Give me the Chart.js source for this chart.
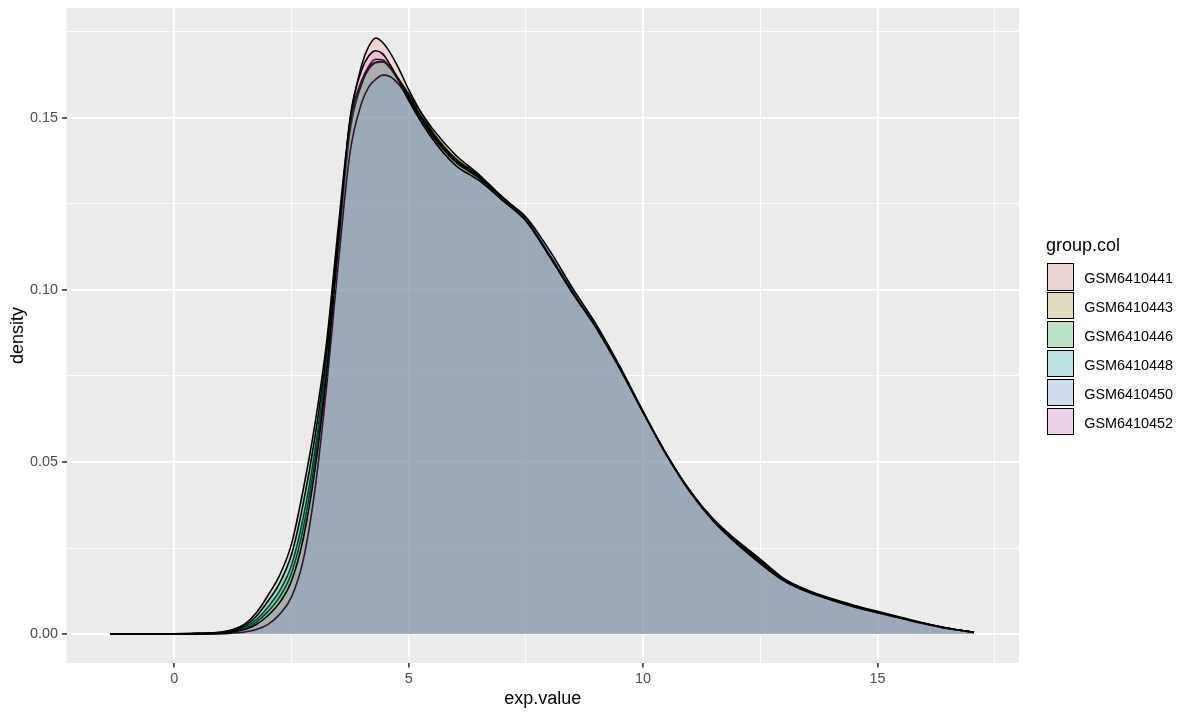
<!DOCTYPE html>
<html><head><meta charset="utf-8">
<script src="https://cdn.jsdelivr.net/npm/chart.js@4.4.1/dist/chart.umd.min.js"></script>
<style>
html,body{margin:0;padding:0;background:#fff;}
#wrap{position:relative;width:1192px;height:715px;}
#c{position:absolute;left:0;top:0;}
.lg{position:absolute;font-family:'Liberation Sans',Arial,sans-serif;white-space:nowrap;}
.lt{font-size:18px;line-height:18px;color:#000;}
.key{box-sizing:border-box;width:27.3px;height:27.3px;border:1.6px solid #000;}
.lab{font-size:14.4px;line-height:14.4px;color:#000;}
</style></head><body>
<div id="wrap"><canvas id="c"></canvas></div>
<script>
// ---- data ----
const xValues = [-1.37, -0.5, 0, 0.5, 1.0, 1.25, 1.5, 1.75, 2.0, 2.25, 2.5, 2.75, 3.0, 3.25, 3.5, 3.75,
  4.0, 4.15, 4.3, 4.45, 4.6, 4.8, 5.0, 5.5, 6.0, 6.5, 7.0, 7.5, 8.0, 8.5,
  9.0, 9.5, 10, 10.5, 11, 11.5, 12, 12.5, 13, 13.5, 14, 14.5, 15, 15.5, 16, 16.5, 17.06];

const gsm6410441 = [0, 0.00001, 0.00005, 0.00015, 0.0004, 0.0009, 0.0020, 0.0042, 0.0079, 0.0126, 0.0200, 0.0338, 0.0534, 0.0798, 0.1143, 0.1490,
  0.1655, 0.1708, 0.1732, 0.1718, 0.1690, 0.1640, 0.1582, 0.1462, 0.1382, 0.1333, 0.1270, 0.1207, 0.1100, 0.0990,
  0.0892, 0.0774, 0.0645, 0.0521, 0.0415, 0.0331, 0.0268, 0.0213, 0.0160, 0.0126, 0.0101, 0.0080, 0.0063, 0.0047, 0.0031, 0.0017, 0.0005];
const gsm6410443 = [0, 0.00001, 0.00004, 0.00012, 0.0003, 0.0008, 0.0016, 0.0035, 0.0066, 0.0109, 0.0177, 0.0307, 0.0506, 0.0779, 0.1127, 0.1460,
  0.1600, 0.1650, 0.1670, 0.1668, 0.1648, 0.1610, 0.1570, 0.1470, 0.1392, 0.1335, 0.1268, 0.1205, 0.1100, 0.0990,
  0.0895, 0.0775, 0.0644, 0.0520, 0.0416, 0.0334, 0.0272, 0.0218, 0.0162, 0.0127, 0.0102, 0.0082, 0.0064, 0.0047, 0.0031, 0.0017, 0.0005];
const gsm6410446 = [0, 0.00002, 0.0001, 0.0002, 0.0006, 0.0013, 0.0029, 0.0062, 0.0113, 0.0172, 0.0262, 0.0420, 0.0610, 0.0850, 0.1185, 0.1490,
  0.1610, 0.1648, 0.1662, 0.1664, 0.1645, 0.1605, 0.1560, 0.1455, 0.1378, 0.1330, 0.1268, 0.1205, 0.1102, 0.0992,
  0.0890, 0.0772, 0.0644, 0.0522, 0.0417, 0.0332, 0.0268, 0.0212, 0.0160, 0.0128, 0.0104, 0.0084, 0.0066, 0.0049, 0.0032, 0.0017, 0.0005];
const gsm6410448 = [0, 0.00002, 0.0001, 0.0002, 0.0005, 0.0011, 0.0024, 0.0052, 0.0096, 0.0149, 0.0231, 0.0379, 0.0572, 0.0824, 0.1164, 0.1480,
  0.1600, 0.1642, 0.1660, 0.1662, 0.1646, 0.1607, 0.1563, 0.1455, 0.1376, 0.1328, 0.1266, 0.1205, 0.1104, 0.0995,
  0.0893, 0.0774, 0.0646, 0.0522, 0.0414, 0.0330, 0.0267, 0.0211, 0.0159, 0.0126, 0.0101, 0.0080, 0.0062, 0.0046, 0.0030, 0.0016, 0.0005];
const gsm6410450 = [0, 0, 0.00002, 0.00005, 0.0001, 0.0003, 0.0006, 0.0013, 0.0028, 0.0058, 0.0108, 0.0215, 0.0420, 0.0720, 0.1080, 0.1400,
  0.1545, 0.1590, 0.1612, 0.1624, 0.1620, 0.1595, 0.1555, 0.1448, 0.1372, 0.1325, 0.1265, 0.1212, 0.1116, 0.1004,
  0.0900, 0.0779, 0.0647, 0.0520, 0.0413, 0.0329, 0.0265, 0.0210, 0.0158, 0.0125, 0.0100, 0.0079, 0.0062, 0.0046, 0.0030, 0.0016, 0.0005];
const gsm6410452 = [0, 0.00001, 0.00003, 0.0001, 0.0002, 0.0006, 0.0013, 0.0028, 0.0054, 0.0092, 0.0154, 0.0277, 0.0477, 0.0759, 0.1140, 0.1500,
  0.1640, 0.1680, 0.1695, 0.1685, 0.1655, 0.1605, 0.1550, 0.1440, 0.1362, 0.1318, 0.1260, 0.1200, 0.1098, 0.0990,
  0.0889, 0.0772, 0.0644, 0.0521, 0.0414, 0.0328, 0.0262, 0.0205, 0.0155, 0.0123, 0.0100, 0.0080, 0.0063, 0.0047, 0.0031, 0.0017, 0.0005];

const seriesNames = ['GSM6410441', 'GSM6410443', 'GSM6410446', 'GSM6410448', 'GSM6410450', 'GSM6410452'];
const seriesValues = [gsm6410441, gsm6410443, gsm6410446, gsm6410448, gsm6410450, gsm6410452];
const seriesColors = ['#F8766D', '#B79F00', '#00BA38', '#00BFC4', '#619CFF', '#F564E3'];

const xMajorTicks = [0, 5, 10, 15];
const xTickLabels = ['0', '5', '10', '15'];
const xMinorTicks = [2.5, 7.5, 12.5, 17.5];
const yMajorTicks = [0, 0.05, 0.10, 0.15];
const yTickLabels = ['0.00', '0.05', '0.10', '0.15'];
const yMinorTicks = [0.025, 0.075, 0.125, 0.175];
const legendTitle = 'group.col';
const xTitle = 'exp.value';
const yTitle = 'density';

// ---- helpers ----
const FILL_ALPHA = 0.2;
function rgba(hex, a) {
  const n = parseInt(hex.slice(1), 16);
  return `rgba(${(n >> 16) & 255},${(n >> 8) & 255},${n & 255},${a})`;
}
function overBg(hex, a, bg) {
  const n = parseInt(hex.slice(1), 16);
  const c = [(n >> 16) & 255, (n >> 8) & 255, n & 255];
  return `rgb(${c.map(v => Math.round(v * a + bg * (1 - a))).join(',')})`;
}
const isMajor = (list, v) => list.some(m => Math.abs(m - v) < 1e-9);
const labelFor = (majors, labels, v) => {
  const i = majors.findIndex(m => Math.abs(m - v) < 1e-9);
  return i >= 0 ? labels[i] : '';
};

const datasets = seriesNames.map((name, i) => ({
  label: name,
  data: xValues.map((x, j) => ({ x: x, y: seriesValues[i][j] })),
  borderColor: '#000000',
  borderWidth: 1.6,
  backgroundColor: rgba(seriesColors[i], FILL_ALPHA),
  fill: 'origin',
  pointRadius: 0,
  pointHoverRadius: 0,
  cubicInterpolationMode: 'monotone',
  order: seriesNames.length - 1 - i
}));

const panelBg = {
  id: 'panelBg',
  beforeDraw(chart) {
    const { ctx, chartArea: a } = chart;
    ctx.save();
    ctx.fillStyle = '#EBEBEB';
    ctx.fillRect(a.left, a.top, a.right - a.left, a.bottom - a.top);
    ctx.restore();
  }
};

const FONT = "'Liberation Sans', Arial, sans-serif";
function noPad(s) { s.paddingTop = 0; s.paddingBottom = 0; s.paddingLeft = 0; s.paddingRight = 0; }

new Chart(document.getElementById('c'), {
  type: 'line',
  data: { datasets },
  plugins: [panelBg],
  options: {
    responsive: true,
    maintainAspectRatio: false,
    animation: false,
    events: [],
    layout: { padding: { left: 0, top: 8, right: 173, bottom: 0 } },
    plugins: { legend: { display: false }, tooltip: { enabled: false } },
    scales: {
      x: {
        type: 'linear',
        min: -2.3, max: 18.02,
        afterFit(s) { s.height = 52; noPad(s); },
        afterBuildTicks(s) { s.ticks = [...xMajorTicks, ...xMinorTicks].sort((a, b) => a - b).map(v => ({ value: v })); },
        border: { display: false },
        grid: {
          color: '#FFFFFF',
          lineWidth: c => isMajor(xMajorTicks, c.tick.value) ? 1.8 : 0.9,
          tickColor: c => isMajor(xMajorTicks, c.tick.value) ? '#333333' : 'rgba(0,0,0,0)',
          tickWidth: 1.6,
          tickLength: 4.5,
          drawTicks: true
        },
        ticks: {
          autoSkip: false,
          maxRotation: 0,
          padding: 3,
          color: '#4D4D4D',
          font: { family: FONT, size: 14.4 },
          callback: v => labelFor(xMajorTicks, xTickLabels, v)
        },
        title: { display: true, text: xTitle, color: '#000', font: { family: FONT, size: 18 }, padding: { top: 0, bottom: 5 } }
      },
      y: {
        type: 'linear',
        min: -0.0084, max: 0.1819,
        afterFit(s) { s.width = 66.5; noPad(s); },
        afterBuildTicks(s) { s.ticks = [...yMajorTicks, ...yMinorTicks].sort((a, b) => a - b).map(v => ({ value: v })); },
        border: { display: false },
        grid: {
          color: '#FFFFFF',
          lineWidth: c => isMajor(yMajorTicks, c.tick.value) ? 1.8 : 0.9,
          tickColor: c => isMajor(yMajorTicks, c.tick.value) ? '#333333' : 'rgba(0,0,0,0)',
          tickWidth: 1.6,
          tickLength: 4.5,
          drawTicks: true
        },
        ticks: {
          autoSkip: false,
          padding: 4,
          color: '#4D4D4D',
          font: { family: FONT, size: 14.4 },
          callback: v => labelFor(yMajorTicks, yTickLabels, v)
        },
        title: { display: true, text: yTitle, color: '#000', font: { family: FONT, size: 18 }, padding: { top: 7, bottom: 0 } }
      }
    }
  }
});

// ---- legend (HTML, real text) ----
const wrap = document.getElementById('wrap');
const t = document.createElement('div');
t.className = 'lg lt';
t.textContent = legendTitle;
t.style.left = '1046px';
t.style.top = '235.5px';
wrap.appendChild(t);
seriesNames.forEach((name, i) => {
  const top = 263.3 + i * 28.9;
  const k = document.createElement('div');
  k.className = 'lg key';
  k.style.left = '1046.7px';
  k.style.top = top + 'px';
  k.style.background = overBg(seriesColors[i], FILL_ALPHA, 235);
  wrap.appendChild(k);
  const l = document.createElement('div');
  l.className = 'lg lab';
  l.textContent = name;
  l.style.left = '1084.3px';
  l.style.top = (top + 7.8) + 'px';
  wrap.appendChild(l);
});
</script>
</body></html>
